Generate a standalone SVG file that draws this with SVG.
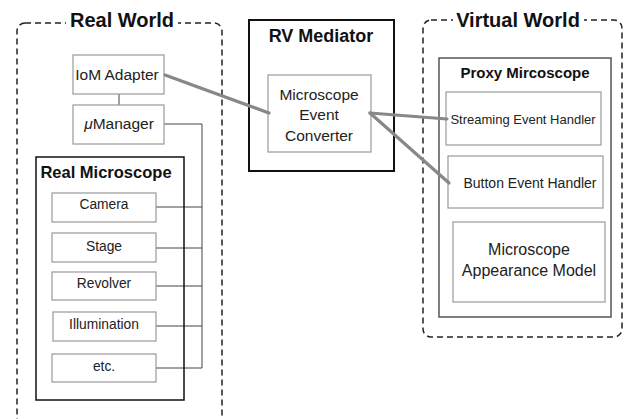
<svg xmlns="http://www.w3.org/2000/svg" width="627" height="419" viewBox="0 0 627 419">
<style>
text{font-family:"Liberation Sans",Arial,sans-serif;fill:#111;text-anchor:middle}
.t{font-weight:bold}
.n{fill:#222}
.world{fill:none;stroke:#222;stroke-width:1.5;stroke-dasharray:6,4}
.box{fill:#fff;stroke:#999;stroke-width:1.2}
.thin{fill:none;stroke:#444;stroke-width:1}
.thick{fill:none;stroke:#888;stroke-width:3.2;stroke-linecap:round}
</style>
<rect width="627" height="419" fill="#fff"/>
<g id="real-world">
<rect class="world" x="17" y="23" width="205" height="405" rx="8"/>
<rect x="66" y="8" width="112" height="24" fill="#fff"/>
<text class="t" x="122" y="27" font-size="20">Real World</text>
</g>
<g id="virtual-world">
<rect class="world" x="423" y="20" width="199" height="317" rx="8"/>
<rect x="453" y="6" width="131" height="24" fill="#fff"/>
<text class="t" x="518" y="27" font-size="20">Virtual World</text>
</g>
<g id="connectors">
<line class="thin" x1="119" y1="94" x2="119" y2="105" stroke="#888" stroke-width="2"/>
<polyline class="thin" points="164,124 202,124 202,368"/>
<line class="thin" x1="156" y1="207" x2="202" y2="207"/>
<line class="thin" x1="156" y1="248" x2="202" y2="248"/>
<line class="thin" x1="156" y1="286" x2="202" y2="286"/>
<line class="thin" x1="156" y1="326" x2="202" y2="326"/>
<line class="thin" x1="156" y1="368" x2="202" y2="368"/>
</g>
<g id="iom-adapter">
<rect class="box" x="73" y="55" width="91" height="39"/>
<text class="n" x="117" y="80" font-size="15.5">IoM Adapter</text>
</g>
<g id="micro-manager">
<rect class="box" x="73" y="105" width="91" height="39"/>
<text class="n" x="119" y="129" font-size="15.5"><tspan font-style="italic">μ</tspan>Manager</text>
</g>
<g id="real-microscope">
<rect x="36" y="157" width="148" height="243" fill="none" stroke="#111" stroke-width="1.5"/>
<text class="t" x="106" y="178" font-size="16.5">Real Microscope</text>
</g>
<g id="camera"><rect class="box" x="52" y="193" width="104" height="29"/><text class="n" x="104" y="209" font-size="13.8">Camera</text></g>
<g id="stage"><rect class="box" x="52" y="233" width="104" height="29"/><text class="n" x="104" y="251" font-size="13.8">Stage</text></g>
<g id="revolver"><rect class="box" x="52" y="272" width="104" height="28"/><text class="n" x="104" y="288" font-size="13.8">Revolver</text></g>
<g id="illumination"><rect class="box" x="53" y="312" width="103" height="29"/><text class="n" x="104" y="329" font-size="13.8">Illumination</text></g>
<g id="etc"><rect class="box" x="52" y="354" width="104" height="28"/><text class="n" x="104" y="371" font-size="13.8">etc.</text></g>
<g id="rv-mediator">
<rect x="249" y="20" width="145" height="151" fill="none" stroke="#111" stroke-width="2"/>
<text class="t" x="321" y="42" font-size="18">RV Mediator</text>
</g>
<g id="converter">
<rect class="box" x="268" y="75" width="103" height="77"/>
<text class="n" x="319" y="100" font-size="15.5">Microscope</text>
<text class="n" x="319" y="120" font-size="15.5">Event</text>
<text class="n" x="319" y="141" font-size="15.5">Converter</text>
</g>
<g id="proxy-microscope">
<rect x="439" y="58" width="172" height="259" fill="none" stroke="#555" stroke-width="1.5"/>
<text class="t" x="525" y="78" font-size="15">Proxy Mircoscope</text>
</g>
<g id="streaming-handler">
<rect class="box" x="446" y="92" width="155" height="53"/>
<text class="n" x="523" y="124" font-size="13">Streaming Event Handler</text>
</g>
<g id="button-handler">
<rect class="box" x="448" y="156" width="155" height="52"/>
<text class="n" x="530" y="188" font-size="14">Button Event Handler</text>
</g>
<g id="appearance-model">
<rect class="box" x="453" y="222" width="152" height="80"/>
<text class="n" x="529" y="255" font-size="16">Microscope</text>
<text class="n" x="529" y="276" font-size="16">Appearance Model</text>
</g>
<g id="data-links">
<line class="thick" x1="165" y1="75" x2="269" y2="113"/>
<line class="thick" x1="370" y1="113" x2="447" y2="119"/>
<line class="thick" x1="370" y1="113" x2="449" y2="183"/>
</g>
</svg>
